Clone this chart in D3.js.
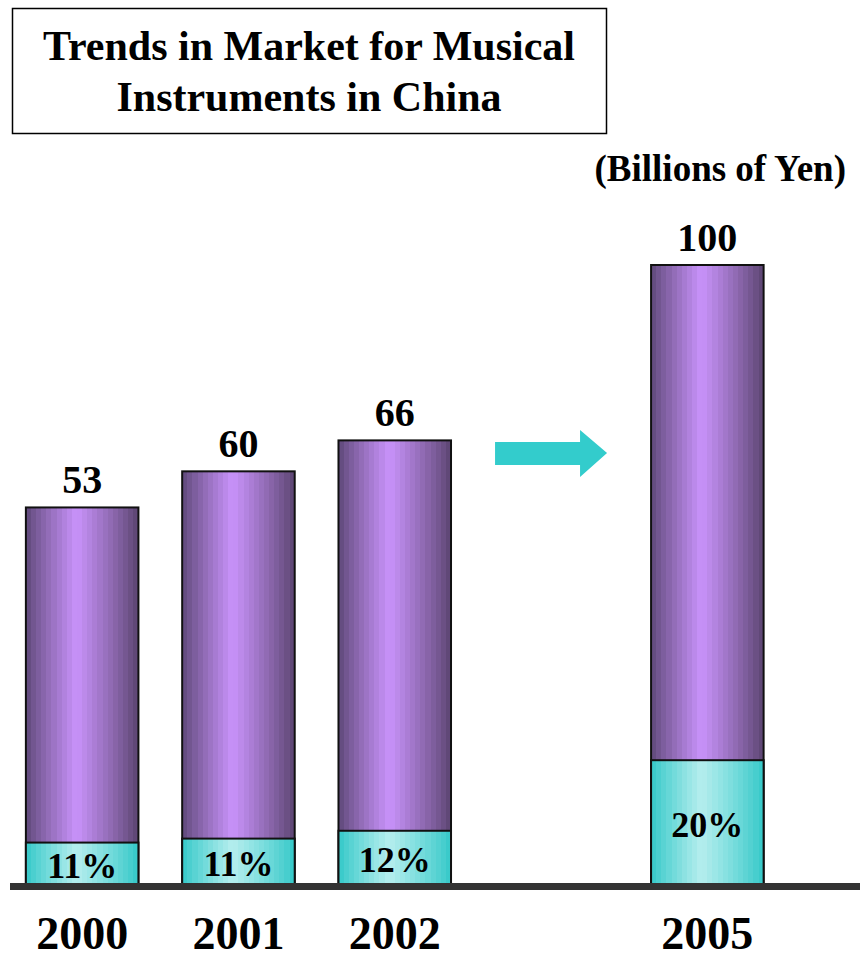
<!DOCTYPE html>
<html>
<head>
<meta charset="utf-8">
<script src="https://cdn.jsdelivr.net/npm/d3@7/dist/d3.min.js"></script>
<style>
  html, body { margin: 0; padding: 0; background: #fff; }
  svg { display: block; }
  text { font-family: "Liberation Serif", "Times New Roman", serif; font-weight: bold; fill: #000; }
</style>
</head>
<body>
<svg id="chart" width="865" height="963"></svg>
<script>
// Market size (billions of yen) and the share shown in the lower segment
const years = ["2000", "2001", "2002", "2005"];
const totals = [53, 60, 66, 100];
const shares = [11, 11, 12, 20];           // percent
const slots = ["2000", "2001", "2002", "arrow", "2005"];
const titleLines = ["Trends in Market for Musical", "Instruments in China"];
const unitLabel = "(Billions of Yen)";

const svg = d3.select("#chart");
const baseY = 884;

const x = d3.scaleBand()
  .domain(slots)
  .range([4, 785.5])
  .paddingInner(0.28)
  .paddingOuter(0.14);

const y = d3.scaleLinear()
  .domain([-20, 100])
  .range([baseY, 265]);

// Banded horizontal shading, like a cylinder
const defs = svg.append("defs");
function bandedGradient(id, dark, darkRight, light) {
  const g = defs.append("linearGradient").attr("id", id)
    .attr("x1", "0%").attr("x2", "100%").attr("y1", "0%").attr("y2", "0%");
  const N = 22, peak = 0.45;
  for (let i = 0; i < N; i++) {
    const t = (i + 0.5) / N;
    let f = t < peak ? t / peak : (1 - t) / (1 - peak);
    f = Math.pow(Math.max(0, Math.min(1, f)), 0.9);
    const edge = t < peak ? dark : darkRight;
    const c = d3.interpolateRgb(edge, light)(f);
    g.append("stop").attr("offset", (i / N * 100) + "%").attr("stop-color", c);
    g.append("stop").attr("offset", ((i + 1) / N * 100) + "%").attr("stop-color", c);
  }
}
bandedGradient("gPurple", "#5e4878", "#5a446f", "#c993fb");
bandedGradient("gTeal", "#33c8c8", "#33c8c8", "#b6eeee");

// Title box
svg.append("rect")
  .attr("x", 12.5).attr("y", 8.5).attr("width", 594).attr("height", 125)
  .attr("fill", "#fff").attr("stroke", "#000").attr("stroke-width", 1.5);
svg.selectAll("text.title").data(titleLines).join("text")
  .attr("class", "title")
  .attr("x", 309).attr("y", (d, i) => 60 + i * 51)
  .attr("text-anchor", "middle")
  .attr("font-size", 42)
  .text(d => d);

svg.append("text")
  .attr("x", 846).attr("y", 181)
  .attr("text-anchor", "end")
  .attr("font-size", 37)
  .text(unitLabel);

const data = years.map((yr, i) => ({ year: yr, total: totals[i], share: shares[i] }));

const bars = svg.selectAll("g.bar").data(data).join("g").attr("class", "bar");

// Full bar (purple)
bars.append("rect")
  .attr("x", d => x(d.year))
  .attr("y", d => y(d.total))
  .attr("width", x.bandwidth())
  .attr("height", d => baseY - y(d.total))
  .attr("fill", "url(#gPurple)")
  .attr("stroke", "#111").attr("stroke-width", 2);

// Share segment (teal): its height is the share of the bar's height
const segTop = d => baseY - (baseY - y(d.total)) * d.share / 100;
bars.append("rect")
  .attr("x", d => x(d.year))
  .attr("y", segTop)
  .attr("width", x.bandwidth())
  .attr("height", d => baseY - segTop(d))
  .attr("fill", "url(#gTeal)")
  .attr("stroke", "#111").attr("stroke-width", 2);

bars.append("text")
  .attr("x", d => x(d.year) + x.bandwidth() / 2)
  .attr("y", d => (segTop(d) + baseY) / 2 + 15)
  .attr("text-anchor", "middle")
  .attr("font-size", 36)
  .text(d => d.share + "%");

// Value above each bar
bars.append("text")
  .attr("x", d => x(d.year) + x.bandwidth() / 2)
  .attr("y", d => y(d.total) - 14)
  .attr("text-anchor", "middle")
  .attr("font-size", 40)
  .text(d => d.total);

// Baseline
svg.append("rect")
  .attr("x", 10).attr("y", 883).attr("width", 850).attr("height", 7)
  .attr("fill", "#333");

// Year labels
const xAxis = d3.axisBottom(x).tickValues(years).tickSize(0).tickPadding(0);
const axisG = svg.append("g").call(xAxis);
axisG.select(".domain").remove();
axisG.selectAll("text")
  .attr("y", 949).attr("dy", null)
  .attr("font-size", 46)
  .attr("font-family", "Liberation Serif, Times New Roman, serif")
  .attr("font-weight", "bold")
  .attr("fill", "#000");

// Arrow pointing to the projected year
const ax = x("arrow"), bw = x.bandwidth();
const cx = ax + bw / 2;
const arrowPath = d3.path();
arrowPath.moveTo(cx - 56, 442);
arrowPath.lineTo(cx + 29, 442);
arrowPath.lineTo(cx + 29, 430);
arrowPath.lineTo(cx + 56, 453);
arrowPath.lineTo(cx + 29, 477);
arrowPath.lineTo(cx + 29, 465);
arrowPath.lineTo(cx - 56, 465);
arrowPath.closePath();
svg.append("path").attr("d", arrowPath.toString()).attr("fill", "#33cccc");
</script>
</body>
</html>
